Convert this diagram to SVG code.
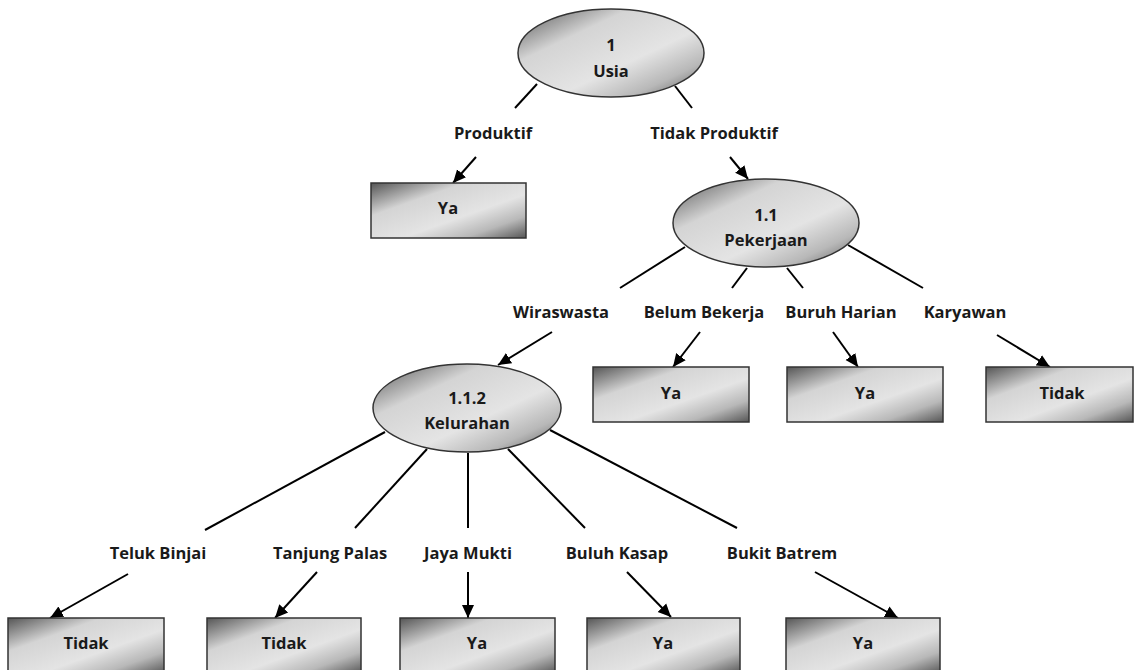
<svg xmlns="http://www.w3.org/2000/svg" width="1135" height="670" viewBox="0 0 1135 670">
<defs>
<linearGradient id="g" x1="0" y1="0" x2="1" y2="1">
<stop offset="0" stop-color="#555"/>
<stop offset="0.3" stop-color="#d4d4d4"/>
<stop offset="0.6" stop-color="#e4e4e4"/>
<stop offset="0.8" stop-color="#b8b8b8"/>
<stop offset="1" stop-color="#555"/>
</linearGradient>
<marker id="ah" markerUnits="userSpaceOnUse" markerWidth="14" markerHeight="14" viewBox="0 0 14 14" refX="13" refY="7" orient="auto">
<path d="M0,1 L13,7 L0,13 Z" fill="#000"/>
</marker>
<style>
.n{fill:url(#g);stroke:#333;stroke-width:1.5}
.t{font-family:"Open Sans","Lato",sans-serif;font-weight:bold;font-size:16.5px;fill:#1a1a1a;text-anchor:middle}
.c line{stroke:#000;stroke-width:2}
.a{marker-end:url(#ah)}
</style>
</defs>
<rect width="1135" height="670" fill="#fff"/>
<g id="connectors" class="c">
<line x1="537" y1="84" x2="515" y2="108"/>
<line x1="675" y1="86" x2="692" y2="108"/>
<line x1="685" y1="247" x2="620" y2="288"/>
<line x1="747" y1="268" x2="732" y2="288"/>
<line x1="787" y1="268" x2="803" y2="288"/>
<line x1="848" y1="245" x2="923" y2="288"/>
<line x1="385" y1="432" x2="205" y2="530"/>
<line x1="427" y1="449" x2="355" y2="528"/>
<line x1="468" y1="453" x2="468" y2="528"/>
<line x1="508" y1="449" x2="585" y2="528"/>
<line x1="550" y1="430" x2="737" y2="528"/>
<line class="a" x1="476" y1="157" x2="453" y2="183"/>
<line class="a" x1="730" y1="157" x2="748" y2="179"/>
<line class="a" x1="552" y1="332" x2="498" y2="365"/>
<line class="a" x1="700" y1="332" x2="673" y2="367"/>
<line class="a" x1="833" y1="332" x2="858" y2="367"/>
<line class="a" x1="997" y1="335" x2="1050" y2="367"/>
<line class="a" x1="128" y1="574" x2="50" y2="618"/>
<line class="a" x1="317" y1="572" x2="275" y2="618"/>
<line class="a" x1="468" y1="572" x2="468" y2="618"/>
<line class="a" x1="627" y1="572" x2="671" y2="617"/>
<line class="a" x1="815" y1="572" x2="898" y2="618"/>
</g>
<g id="labels">
<text class="t" x="493" y="139">Produktif</text>
<text class="t" x="714" y="139">Tidak Produktif</text>
<text class="t" x="561" y="318">Wiraswasta</text>
<text class="t" x="704" y="318">Belum Bekerja</text>
<text class="t" x="841" y="318">Buruh Harian</text>
<text class="t" x="965" y="318">Karyawan</text>
<text class="t" x="158" y="559">Teluk Binjai</text>
<text class="t" x="330" y="559">Tanjung Palas</text>
<text class="t" x="468" y="559">Jaya Mukti</text>
<text class="t" x="617" y="559">Buluh Kasap</text>
<text class="t" x="782" y="559">Bukit Batrem</text>
</g>
<g id="n1"><ellipse class="n" cx="611" cy="53" rx="93" ry="44"/><text class="t" x="611" y="51">1</text><text class="t" x="611" y="77">Usia</text></g>
<g id="n11"><ellipse class="n" cx="766" cy="223" rx="93" ry="44"/><text class="t" x="766" y="221">1.1</text><text class="t" x="766" y="246">Pekerjaan</text></g>
<g id="n112"><ellipse class="n" cx="467" cy="408" rx="94" ry="44"/><text class="t" x="467" y="404">1.1.2</text><text class="t" x="467" y="429">Kelurahan</text></g>
<g id="b_produktif"><rect class="n" x="371" y="183" width="155" height="55"/><text class="t" x="448" y="214">Ya</text></g>
<g id="b_belum"><rect class="n" x="593" y="367" width="156" height="55"/><text class="t" x="671" y="399">Ya</text></g>
<g id="b_buruh"><rect class="n" x="787" y="367" width="156" height="55"/><text class="t" x="865" y="399">Ya</text></g>
<g id="b_karyawan"><rect class="n" x="986" y="367" width="147" height="55"/><text class="t" x="1062" y="399">Tidak</text></g>
<g id="b_teluk"><rect class="n" x="8" y="618" width="156" height="56"/><text class="t" x="86" y="649">Tidak</text></g>
<g id="b_tanjung"><rect class="n" x="207" y="618" width="154" height="56"/><text class="t" x="284" y="649">Tidak</text></g>
<g id="b_jaya"><rect class="n" x="400" y="618" width="155" height="56"/><text class="t" x="477" y="649">Ya</text></g>
<g id="b_buluh"><rect class="n" x="587" y="618" width="153" height="56"/><text class="t" x="663" y="649">Ya</text></g>
<g id="b_bukit"><rect class="n" x="786" y="618" width="154" height="56"/><text class="t" x="863" y="649">Ya</text></g>
</svg>
